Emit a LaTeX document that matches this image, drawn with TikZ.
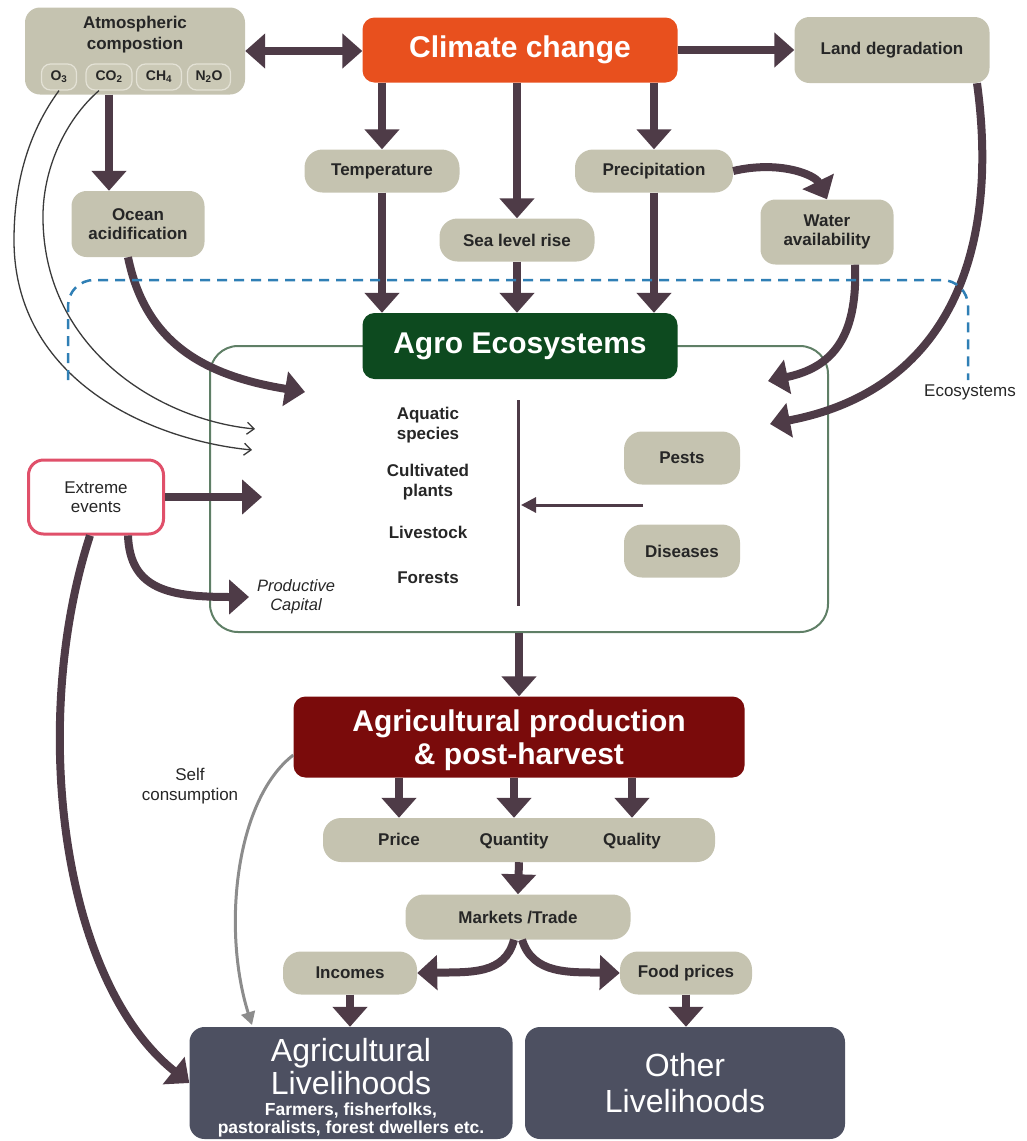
\documentclass[tikz,border=0pt]{standalone}
\usepackage{fontspec}
\setmainfont{Liberation Sans}
\usetikzlibrary{arrows.meta,calc}
\definecolor{beige}{HTML}{C5C3B0}
\definecolor{pillc}{HTML}{CBC9B6}
\definecolor{pilld}{HTML}{E4E2D6}
\definecolor{txt}{HTML}{262626}
\definecolor{arrowc}{HTML}{4E3B47}
\definecolor{thinc}{HTML}{3A3A3A}
\definecolor{ccorange}{HTML}{E8501E}
\definecolor{agrogreen}{HTML}{0D4A1F}
\definecolor{prodred}{HTML}{7A0B0B}
\definecolor{slate}{HTML}{4D5061}
\definecolor{framec}{HTML}{5F7F66}
\definecolor{dashblue}{HTML}{2F7FB5}
\definecolor{pinkc}{HTML}{E0506A}
\definecolor{selfc}{HTML}{8C8C8C}
\newcommand\smallfont{\bfseries\fontsize{17}{19.5}\selectfont}
\newcommand\titlefont{\bfseries\fontsize{30}{33}\selectfont}
\begin{document}
\begin{tikzpicture}[x=1pt,y=-1pt,
  beigebox/.style={fill=beige, rounded corners=15pt, inner sep=0pt, align=center, font=\smallfont, text=txt},
  pill/.style={fill=pillc, draw=pilld, line width=1.2pt, rounded corners=9pt, minimum height=26pt, inner sep=0pt, font=\bfseries\fontsize{14}{15}\selectfont, text=txt},
  lbl/.style={align=center, font=\smallfont, text=txt, inner sep=0pt},
  titlebox/.style={rounded corners=12pt, inner sep=0pt, align=center, font=\titlefont, text=white},
  big/.style={line width=8pt, draw=arrowc, -{Triangle[width=34pt,length=20pt]}},
  bigboth/.style={line width=8pt, draw=arrowc, {Triangle[width=34pt,length=20pt]}-{Triangle[width=34pt,length=20pt]}},
  thinarrow/.style={line width=1.3pt, draw=thinc, -{Straight Barb[width=12pt,length=7pt,line width=1.3pt]}},
  livetitle/.style={anchor=base, text=white, font=\fontsize{32}{34}\selectfont, inner sep=0pt},
  livesub/.style={anchor=base, text=white, font=\bfseries\fontsize{17.5}{20}\selectfont, inner sep=0pt},
]
\useasboundingbox (0,0) rectangle (1026,1141);

% ---- frame of agro ecosystems
\node[draw=framec, line width=2pt, rounded corners=28pt, minimum width=618pt, minimum height=286pt, inner sep=0pt] (frame) at (519,489) {};

% ---- top row
\node[beigebox, minimum width=220pt, minimum height=87pt] (atm) at (135,51) {};
\node[lbl, font=\bfseries\fontsize{17}{21}\selectfont] (atmtext) at (135,35) {Atmospheric\\compostion};
\node[pill, minimum width=35pt] (o3) at (59,77) {O\textsubscript{3}};
\node[pill, minimum width=46pt] (co2) at (109,77) {CO\textsubscript{2}};
\node[pill, minimum width=45pt] (ch4) at (159,77) {CH\textsubscript{4}};
\node[pill, minimum width=43pt] (n2o) at (209,77) {N\textsubscript{2}O};

\node[titlebox, fill=ccorange, minimum width=315pt, minimum height=65pt] (cc) at (520,50) {Climate change};
\node[beigebox, minimum width=195pt, minimum height=66pt] (land) at (892,50) {Land degradation};

\node[beigebox, minimum width=155pt, minimum height=43pt, rounded corners=18pt] (temp) at (382,171) {Temperature};
\node[beigebox, minimum width=155pt, minimum height=43pt, rounded corners=18pt] (sea) at (517,240) {Sea level rise};
\node[beigebox, minimum width=158pt, minimum height=43pt, rounded corners=18pt] (prec) at (654,171) {Precipitation};
\node[beigebox, minimum width=133pt, minimum height=65pt] (water) at (827,232) {Water\\availability};
\node[beigebox, minimum width=133pt, minimum height=66pt] (ocean) at (138,224) {Ocean\\acidification};

\node[titlebox, fill=agrogreen, minimum width=315pt, minimum height=66pt] (agro) at (520,346) {Agro Ecosystems};

% ---- inside frame
\node[lbl] (aq) at (428,425) {Aquatic\\species};
\node[lbl] (cult) at (428,482) {Cultivated\\plants};
\node[lbl] (live) at (428,532) {Livestock};
\node[lbl] (forest) at (428,578) {Forests};
\coordinate (vtop) at (518,400);
\coordinate (vbot) at (518,606);
\draw[line width=3pt, arrowc] (vtop) -- (vbot);
\node[beigebox, minimum width=116pt, minimum height=53pt, rounded corners=18pt] (pests) at (682,458) {Pests};
\node[beigebox, minimum width=116pt, minimum height=53pt, rounded corners=18pt] (dis) at (682,551) {Diseases};
\coordinate (pdstart) at (643,505);
\coordinate (pdend) at (521,505);
\draw[line width=3pt, arrowc, -{Triangle[width=15pt,length=15pt]}] (pdstart) -- (pdend);
\node[align=center, font=\itshape\fontsize{16.5}{19}\selectfont, text=txt, inner sep=0pt] (prodcap) at (296,597) {Productive\\Capital};

% ---- left side
\node[draw=pinkc, line width=3pt, fill=white, rounded corners=15pt, minimum width=135pt, minimum height=74pt, align=center, font=\fontsize{17}{19.5}\selectfont, text=txt, inner sep=0pt] (extreme) at (96,497) {Extreme\\events};

% ---- production chain
\node[titlebox, fill=prodred, minimum width=451pt, minimum height=81pt] (agprod) at (519,737) {};
\node[titlebox, fill=none] (agprodtext) at (519,740) {Agricultural production\\\& post-harvest};
\node[beigebox, minimum width=392pt, minimum height=44pt, rounded corners=18pt] (pqq) at (519,840) {};
\node[lbl, anchor=base] (price) at (399,845) {Price};
\node[lbl, anchor=base] (qty) at (514,845) {Quantity};
\node[lbl, anchor=base] (qual) at (632,845) {Quality};
\node[beigebox, minimum width=225pt, minimum height=45pt, rounded corners=18pt] (markets) at (518,917) {Markets /Trade};
\node[beigebox, minimum width=134pt, minimum height=43pt, rounded corners=18pt] (incomes) at (350,973) {Incomes};
\node[beigebox, minimum width=132pt, minimum height=43pt, rounded corners=18pt] (food) at (686,973) {Food prices};

\node[fill=slate, rounded corners=15pt, minimum width=323pt, minimum height=112pt, inner sep=0pt] (aglive) at (351,1083) {};
\node[livetitle] (agl1) at (351,1061) {Agricultural};
\node[livetitle] (agl2) at (351,1094) {Livelihoods};
\node[livesub] (agl3) at (351,1115) {Farmers, fisherfolks,};
\node[livesub] (agl4) at (351,1133) {pastoralists, forest dwellers etc.};
\node[fill=slate, rounded corners=15pt, minimum width=320pt, minimum height=112pt, align=center, text=white, font=\fontsize{32}{36}\selectfont, inner sep=0pt] (other) at (685,1083) {Other\\Livelihoods};

\node[align=center, font=\fontsize{17}{20}\selectfont, text=txt, inner sep=0pt] (selfc) at (190,786) {Self\\consumption};
\node[font=\fontsize{17}{20}\selectfont, text=txt, inner sep=0pt] (ecosys) at (970,392) {Ecosystems};

% ---- free ends
\coordinate (oceanend) at (305,392);
\coordinate (o3end) at (252,450);
\coordinate (co2end) at (255,429);
\coordinate (exend) at (262,497);
\coordinate (pcend) at (249,597);
\coordinate (waterend) at (768,381);
\coordinate (landend) at (770,424);
\coordinate (selfend) at (252,1025);

% ---- thin arrows
\draw[thinarrow] (o3.south) .. controls (30,130) and (14,180) .. (14,240) .. controls (14,380) and (150,440) .. (o3end);
\draw[thinarrow] ([xshift=-10pt]co2.south) .. controls (65,120) and (42,170) .. (43,220) .. controls (45,350) and (160,420) .. (co2end);

% ---- big arrows
\draw[bigboth] (atm.east) -- (atm.east -| cc.west);
\draw[big] (cc.east) -- (land.west);
\draw[big] (cc.south -| temp.north) -- (temp.north);
\draw[big] (cc.south -| sea.north) -- (sea.north);
\draw[big] (cc.south -| prec.north) -- (prec.north);
\draw[big] (atm.south -| co2.center) -- (ocean.north -| co2.center);
\draw[big] (temp.south) -- (temp.south |- agro.north);
\draw[big] (sea.south) -- (sea.south |- agro.north);
\draw[big] (prec.south) -- (prec.south |- agro.north);
\draw[big] (prec.east) .. controls (780,160) and (815,175) .. (water.north);
\draw[big] ([xshift=28pt]water.south) .. controls (858,340) and (830,368) .. (waterend);
\draw[big] ([xshift=85pt]land.south) .. controls (1000,250) and (950,390) .. (landend);
\draw[big] ([xshift=-10pt]ocean.south) .. controls (145,340) and (200,375) .. (oceanend);
\draw[big] (extreme.east) -- (exend);
\draw[big] ([xshift=32pt]extreme.south) .. controls (130,590) and (170,597) .. (pcend);
\draw[big] ([xshift=-6pt]extreme.south) .. controls (30,720) and (60,980) .. (aglive.west);
\draw[big] (frame.south) -- (agprod.north);
\draw[big] (agprod.south -| price.center) -- (pqq.north -| price.center);
\draw[big] (agprod.south -| qty.center) -- (pqq.north -| qty.center);
\draw[big] (agprod.south -| qual.center) -- (pqq.north -| qual.center);
\draw[big] (pqq.south) -- (markets.north);
\draw[big] ([xshift=-4pt]markets.south) .. controls (505,975) and (470,972) .. (incomes.east);
\draw[big] ([xshift=4pt]markets.south) .. controls (533,975) and (570,972) .. (food.west);
\draw[big] (incomes.south) -- (incomes.south |- aglive.north);
\draw[big] (food.south) -- (food.south |- other.north);
\draw[line width=3pt, selfc, -{Triangle[width=14pt,length=13pt]}] ([yshift=-18pt]agprod.west) .. controls (235,800) and (222,930) .. (selfend);

% ---- ecosystems dashed boundary
\draw[dashblue, line width=2.5pt, dash pattern=on 10pt off 7pt, rounded corners=26pt] (68,380) -- (68,280) -- (968,280) -- (968,380);
\end{tikzpicture}
\end{document}
